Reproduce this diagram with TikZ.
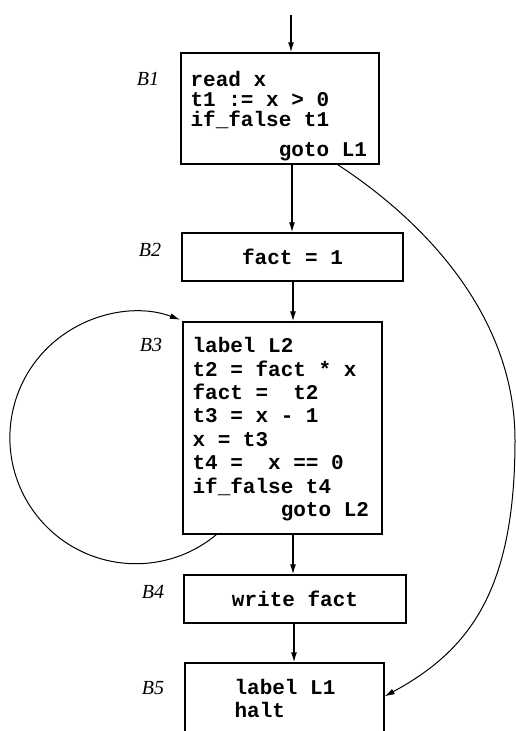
\documentclass[tikz,border=0pt]{standalone}
\usepackage{fontspec}
\setmainfont{Liberation Serif}
\newfontfamily\codefont{Liberation Mono}
\usetikzlibrary{arrows.meta,calc}
\begin{document}
\begin{tikzpicture}[x=1pt,y=-1pt,
  blk/.style={draw, line width=1.3pt, rectangle, inner sep=0pt,
    font=\codefont\bfseries\fontsize{21}{23}\selectfont},
  code/.style={inner sep=0pt, anchor=north west, align=left},
  blabel/.style={font=\itshape\fontsize{20}{20}\selectfont, inner sep=0pt},
  arr/.style={line width=1.4pt, -{Latex[length=10pt,width=6pt]}},
  jump/.style={line width=1pt, -{Latex[length=10pt,width=6pt]}}]
\useasboundingbox (0,0) rectangle (516,731);

% blocks
\node[blk, minimum width=198pt, minimum height=111pt] (B1) at (280,108.5) {};
\node[blk, minimum width=221pt, minimum height=48pt] (B2) at (292.5,257) {fact = 1};
\node[blk, minimum width=199pt, minimum height=212pt] (B3) at (282.5,428) {};
\node[blk, minimum width=222pt, minimum height=48pt] (B4) at (295,599) {write fact};
\node[blk, minimum width=199pt, minimum height=130pt] (B5) at (284.5,728) {};

% code inside blocks
\node[code, font=\codefont\bfseries\fontsize{21}{20}\selectfont] (c1)
  at ($(B1.north west)+(10,19)$)
  {read x\\t1 := x > 0\\if\_false t1\\[10pt]\phantom{xxxxxxx}goto L1};
\node[code, font=\codefont\bfseries\fontsize{21}{23.4}\selectfont] (c3)
  at ($(B3.north west)+(10,16)$)
  {label L2\\t2 = fact * x\\fact =\ \ t2\\t3 = x - 1\\x = t3\\t4 =\ \ x == 0\\if\_false t4\\\phantom{xxxxxxx}goto L2};
\node[code, font=\codefont\bfseries\fontsize{21}{23}\selectfont] (c5)
  at ($(B5.north west)+(50,17)$)
  {label L1\\halt};

% block labels
\node[blabel] (l1) at (148,79) {B1};
\node[blabel] (l2) at (150,250) {B2};
\node[blabel] (l3) at (151,345) {B3};
\node[blabel] (l4) at (153,592) {B4};
\node[blabel] (l5) at (153,688) {B5};

% straight edges
\coordinate (e0) at (291,15);
\coordinate (x12) at (292,0);
\coordinate (x23) at (293,0);
\coordinate (x34) at (293,0);
\coordinate (x45) at (294,0);
\draw[arr] (e0) -- (e0 |- B1.north);
\draw[arr] (B1.south -| x12) -- (B2.north -| x12);
\draw[arr] (B2.south -| x23) -- (B3.north -| x23);
\draw[arr] (B3.south -| x34) -- (B4.north -| x34);
\draw[arr] (B4.south -| x45) -- (B5.north -| x45);

% loop B3 -> B3
\draw[jump] ($(B3.south west)+(34,0)$) arc[start angle=50.3, end angle=290.5, radius=126];

% jump B1 -> B5
\draw[jump] ($(B1.south east)+(-42,0)$) .. controls (430,225) and (515,320) .. (515,440)
  .. controls (515,590) and (470,650) .. ($(B5.north east)+(0,34)$);
\end{tikzpicture}
\end{document}
